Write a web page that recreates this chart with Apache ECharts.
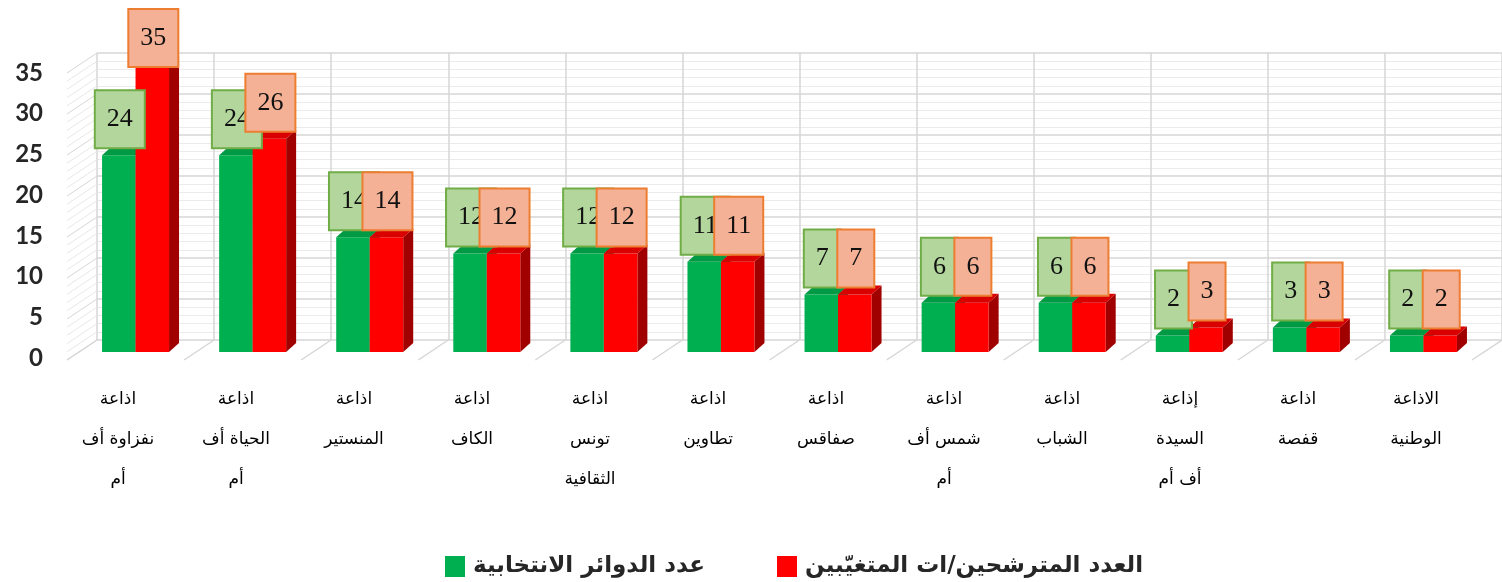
<!DOCTYPE html>
<html><head><meta charset="utf-8">
<script src="https://cdn.jsdelivr.net/npm/echarts@6/dist/echarts.min.js"></script>
<style>html,body{margin:0;padding:0;background:#fff}#c{width:1502px;height:582px}</style>
</head><body><div id="c"></div>
<script>
const categories = [
  "اذاعة\nنفزاوة أف\nأم",
  "اذاعة\nالحياة أف\nأم",
  "اذاعة\nالمنستير",
  "اذاعة\nالكاف",
  "اذاعة\nتونس\nالثقافية",
  "اذاعة\nتطاوين",
  "اذاعة\nصفاقس",
  "اذاعة\nشمس أف\nأم",
  "اذاعة\nالشباب",
  "إذاعة\nالسيدة\nأف أم",
  "اذاعة\nقفصة",
  "الاذاعة\nالوطنية"
];
const circuits = [24, 24, 14, 12, 12, 11, 7, 6, 6, 2, 3, 2];
const candidates = [35, 26, 14, 12, 12, 11, 7, 6, 6, 3, 3, 2];
const yTicks = [0, 5, 10, 15, 20, 25, 30, 35];
const seriesNames = ["عدد الدوائر الانتخابية", "العدد المترشحين/ات المتغيّبين"];

const FRONT_DX = -20, FRONT_DY = 12, DEPTH_X = 10, DEPTH_Y = -9, BAR_W = 33.5;
const BOX_H = 58, CHART_TOP = 8;
const styles = [
  {front: '#00b050', top: '#009944', side: '#007a35', box: '#b2d69c', border: '#70ad47'},
  {front: '#ff0000', top: '#d80000', side: '#a00000', box: '#f5b196', border: '#ed7d31'}
];

function barRender(si) {
  return function (params, api) {
    const i = api.value(0), v = api.value(1);
    const base = api.coord([i, 0]), topP = api.coord([i, v]);
    const cx = base[0] + FRONT_DX;
    const x0 = si === 0 ? cx - BAR_W : cx;
    const x1 = x0 + BAR_W;
    const yb = base[1] + FRONT_DY, yt = topP[1] + FRONT_DY;
    const s = styles[si];
    const labelBottom = Math.max(yt + DEPTH_Y + 1, CHART_TOP + BOX_H);
    return {
      type: 'group',
      children: [
        {type: 'polygon', z2: 1, shape: {points: [[x1, yt], [x1 + DEPTH_X, yt + DEPTH_Y], [x1 + DEPTH_X, yb + DEPTH_Y], [x1, yb]]}, style: {fill: s.side}},
        {type: 'rect', z2: 2, shape: {x: x0, y: yt, width: BAR_W, height: yb - yt}, style: {fill: s.front}},
        {type: 'polygon', z2: 2, shape: {points: [[x0, yt], [x1, yt], [x1 + DEPTH_X, yt + DEPTH_Y], [x0 + DEPTH_X, yt + DEPTH_Y]]}, style: {fill: s.top}},
        {type: 'text', z2: 10, style: {
          text: String(v), x: (x0 + x1) / 2 + 1, y: labelBottom,
          align: 'center', verticalAlign: 'bottom',
          font: '26px "Liberation Serif"', fill: '#111',
          backgroundColor: s.box, borderColor: s.border, borderWidth: 2,
          padding: [15, 11, 15, 11]
        }}
      ]
    };
  };
}

function wallRender(params, api) {
  const cs = params.coordSys;
  const children = [];
  const bw = api.size([1, 0])[0];
  const maxV = yTicks[yTicks.length - 1];
  for (let v = 0; v <= maxV; v += 1) {
    const y = api.coord([0, v])[1];
    const major = yTicks.indexOf(v) >= 0;
    children.push({type: 'line', shape: {x1: cs.x, y1: y, x2: cs.x - 30, y2: y + 20},
      style: {stroke: major ? '#d6d6d6' : '#e8e8e8', lineWidth: 1}});
  }
  const y0 = api.coord([0, 0])[1];
  for (let k = 0; k <= categories.length; k++) {
    const bx = cs.x + k * bw;
    children.push({type: 'line', shape: {x1: bx, y1: y0, x2: bx - 30, y2: y0 + 20},
      style: {stroke: '#d6d6d6', lineWidth: 1.5}});
  }
  return {type: 'group', children};
}

const legendText = {fontFamily: 'DejaVu Sans', fontWeight: 'bold', fontSize: 23, color: '#262626', padding: [0, 0, 0, 3]};
const chart = echarts.init(document.getElementById('c'), null, {renderer: 'canvas'});
chart.setOption({
  animation: false,
  backgroundColor: '#fff',
  grid: [
    {left: 97, top: 53, width: 1416, height: 287},
    {left: 59, top: 53, width: 1416, height: 287},
    {left: 67, top: 73, width: 1416, height: 285}
  ],
  xAxis: [
    {gridIndex: 0, type: 'category', data: categories, axisLabel: {show: false}, axisLine: {show: false}, axisTick: {show: false},
     splitLine: {show: true, interval: 0, lineStyle: {color: '#d6d6d6', width: 1.5}}},
    {gridIndex: 1, type: 'category', data: categories, axisLine: {show: false}, axisTick: {show: false},
     axisLabel: {interval: 0, margin: 40, fontFamily: 'DejaVu Sans', fontSize: 17, lineHeight: 40, color: '#000'}},
    {gridIndex: 2, type: 'category', data: categories, show: false}
  ],
  yAxis: [
    {gridIndex: 0, type: 'value', min: 0, max: 35, interval: 5, axisLabel: {show: false}, axisLine: {show: false}, axisTick: {show: false},
     splitLine: {lineStyle: {color: '#d6d6d6', width: 1.5}},
     minorTick: {show: false, splitNumber: 5}, minorSplitLine: {show: true, lineStyle: {color: '#ebebeb', width: 1}}},
    {gridIndex: 1, type: 'value', min: 0, max: 35, interval: 5, show: false},
    {gridIndex: 2, type: 'value', min: 0, max: 35, interval: 5, axisLine: {show: false}, axisTick: {show: false}, splitLine: {show: false},
     axisLabel: {margin: 24, fontFamily: 'Lato', fontWeight: 'bold', fontSize: 24, color: '#262626'}}
  ],
  legend: [
    {data: [seriesNames[0]], left: 440, top: 550, itemWidth: 20, itemHeight: 21, icon: 'rect', textStyle: legendText},
    {data: [seriesNames[1]], left: 772, top: 550, itemWidth: 20, itemHeight: 21, icon: 'rect', textStyle: legendText}
  ],
  series: [
    {type: 'custom', name: 'walls', xAxisIndex: 0, yAxisIndex: 0, silent: true, z: 1, data: [[0, 0]], renderItem: wallRender},
    {type: 'custom', name: seriesNames[0], xAxisIndex: 0, yAxisIndex: 0, itemStyle: {color: '#00b050'},
     data: circuits.map((v, i) => [i, v]), renderItem: barRender(0)},
    {type: 'custom', name: seriesNames[1], xAxisIndex: 0, yAxisIndex: 0, itemStyle: {color: '#ff0000'},
     data: candidates.map((v, i) => [i, v]), renderItem: barRender(1)}
  ]
});
</script></body></html>
